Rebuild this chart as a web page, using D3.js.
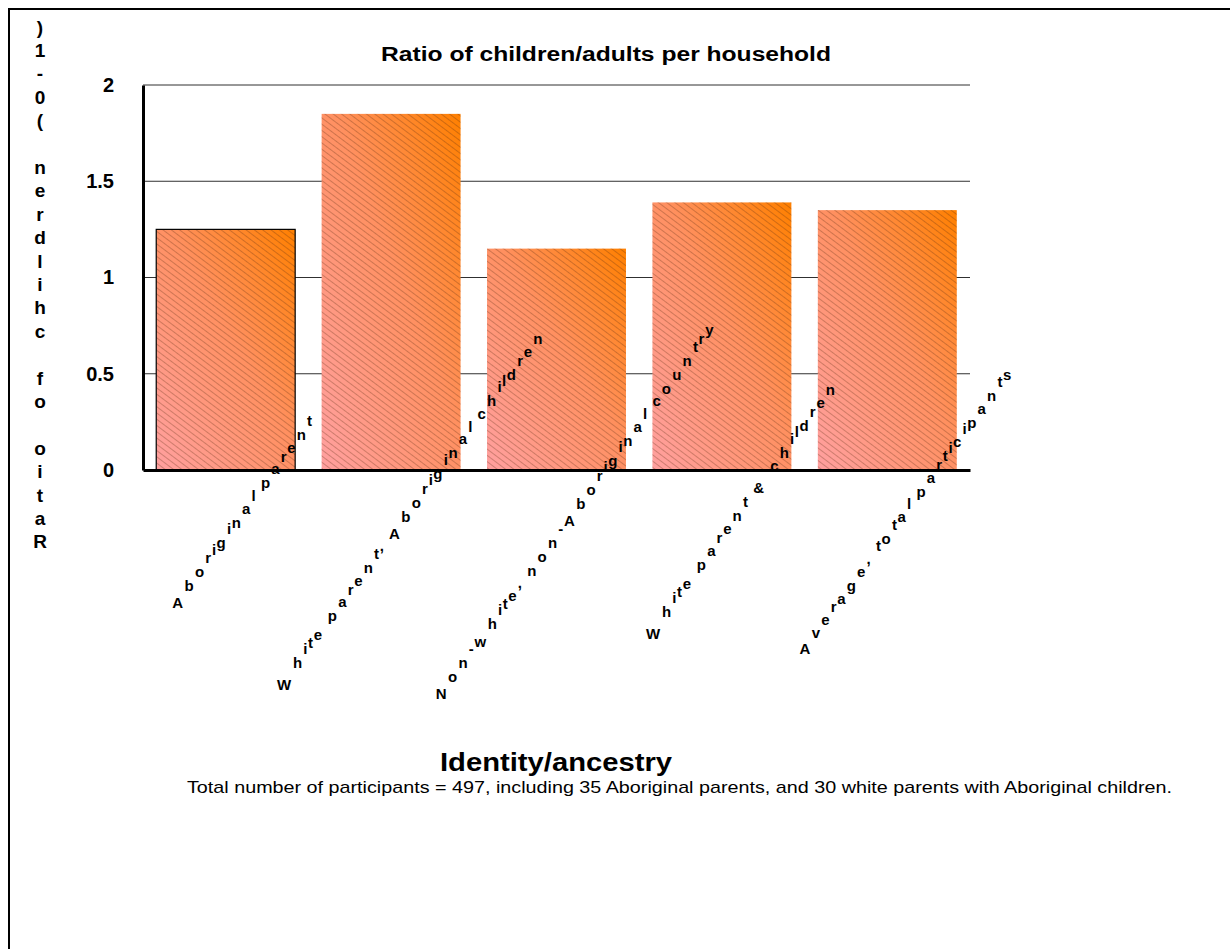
<!DOCTYPE html>
<html>
<head>
<meta charset="utf-8">
<script src="https://cdn.jsdelivr.net/npm/d3@7"></script>
<style>
  html, body { margin: 0; padding: 0; background: #fff; }
  svg { display: block; }
  text { font-family: "Liberation Sans", Arial, sans-serif; fill: #000; }
</style>
</head>
<body>
<svg id="chart" width="1230" height="949"></svg>
<script>
// ---- data ----
const categories = [
  "Aboriginal parent",
  "White parent, Aboriginal children",
  "Non-white, non-Aboriginal country",
  "White parent & children",
  "Average, total participants"
];
const ratios = [1.25, 1.85, 1.15, 1.39, 1.35];
const yTicks = [0, 0.5, 1, 1.5, 2];
const chartTitle = "Ratio of children/adults per household";
const yTitle = "Ratio of children (0-1)";
const xTitle = "Identity/ancestry";
const footnote = "Total number of participants = 497, including 35 Aboriginal parents, and 30 white parents with Aboriginal children.";

// ---- layout ----
const plot = { left: 143, right: 970, top: 85, bottom: 470 };
const svg = d3.select("#chart");

const x = d3.scaleBand()
  .domain(categories)
  .range([plot.left, plot.right])
  .paddingInner(0.16)
  .paddingOuter(0.08);

const y = d3.scaleLinear().domain([0, 2]).range([plot.bottom, plot.top]);

// outer frame
svg.append("rect")
  .attr("x", 9).attr("y", 9)
  .attr("width", 1260).attr("height", 980)
  .attr("fill", "none").attr("stroke", "#000").attr("stroke-width", 2);

// ---- fills ----
const defs = svg.append("defs");
const grad = defs.append("linearGradient")
  .attr("id", "barFill")
  .attr("x1", 0).attr("y1", 1).attr("x2", 1).attr("y2", 0);
grad.append("stop").attr("offset", 0).attr("stop-color", "#ffa0a0");
grad.append("stop").attr("offset", 0.55).attr("stop-color", "#ff9060");
grad.append("stop").attr("offset", 1).attr("stop-color", "#ff8000");

const hatch = defs.append("pattern")
  .attr("id", "hatch")
  .attr("patternUnits", "userSpaceOnUse")
  .attr("width", 10).attr("height", 5)
  .attr("patternTransform", "rotate(37)");
hatch.append("line")
  .attr("x1", 0).attr("y1", 0.5).attr("x2", 10).attr("y2", 0.5)
  .attr("stroke", "#5a2a12").attr("stroke-opacity", 0.5)
  .attr("stroke-width", 0.6);

// ---- gridlines ----
svg.append("g")
  .selectAll("line")
  .data(yTicks.filter(t => t > 0))
  .enter().append("line")
  .attr("x1", plot.left).attr("x2", plot.right)
  .attr("y1", d => y(d)).attr("y2", d => y(d))
  .attr("stroke", "#303030").attr("stroke-width", 1);

// ---- bars ----
const bars = svg.append("g");
bars.selectAll("rect.base")
  .data(ratios)
  .enter().append("rect")
  .attr("class", "base")
  .attr("x", (d, i) => x(categories[i]))
  .attr("y", d => y(d))
  .attr("width", x.bandwidth())
  .attr("height", d => y(0) - y(d))
  .attr("fill", "url(#barFill)");
bars.selectAll("rect.hatch")
  .data(ratios)
  .enter().append("rect")
  .attr("class", "hatch")
  .attr("x", (d, i) => x(categories[i]))
  .attr("y", d => y(d))
  .attr("width", x.bandwidth())
  .attr("height", d => y(0) - y(d))
  .attr("fill", "url(#hatch)")
  .attr("stroke", (d, i) => i === 0 ? "#000" : "none")
  .attr("stroke-width", 1.2);

// ---- axes ----
const yAxis = svg.append("g")
  .attr("transform", `translate(${plot.left},0)`)
  .call(d3.axisLeft(y).tickValues(yTicks).tickSize(0).tickSizeOuter(0).tickPadding(29)
    .tickFormat(d3.format("")));
yAxis.select(".domain").attr("stroke", "#000").attr("stroke-width", 3);
yAxis.selectAll("text")
  .attr("font-family", "'Liberation Sans', Arial, sans-serif")
  .attr("font-size", 20).attr("font-weight", "bold").attr("fill", "#000");

const xAxis = svg.append("g")
  .attr("transform", `translate(0,${plot.bottom})`)
  .call(d3.axisBottom(x).tickSize(0).tickSizeOuter(0).tickFormat(""));
xAxis.select(".domain").attr("stroke", "#000").attr("stroke-width", 3);

// ---- category labels: upright glyphs laid along a slanted baseline ----
const measure = document.createElement("canvas").getContext("2d");
measure.font = "bold 28.5px 'Liberation Sans'";
const ang = 53.5 * Math.PI / 180;
const ux = Math.cos(ang), uy = -Math.sin(ang);
const labels = svg.append("g");
categories.forEach(cat => {
  const chars = Array.from(cat);
  let s = 0;
  const glyphs = chars.map(c => { const p = s; s += measure.measureText(c).width; return { c, p }; });
  const span = glyphs[glyphs.length - 1].p;
  const cx = x(cat) + x.bandwidth() / 2 + 14, cy = 517;
  const x0 = cx - ux * span / 2, y0 = cy - uy * span / 2;
  labels.selectAll(null)
    .data(glyphs.filter(g => g.c !== " "))
    .enter().append("text")
    .attr("x", g => x0 + ux * g.p)
    .attr("y", g => y0 + uy * g.p)
    .attr("font-size", 15).attr("font-weight", "bold")
    .text(g => g.c);
});

// ---- y axis title: glyphs stacked downward, read from the bottom up ----
const yChars = Array.from(yTitle).reverse();
svg.append("g").selectAll("text")
  .data(yChars)
  .enter().append("text")
  .attr("x", 40)
  .attr("y", (c, i) => 27 + i * 23.4)
  .attr("dy", "0.35em")
  .attr("text-anchor", "middle")
  .attr("font-size", 19).attr("font-weight", "bold")
  .text(c => c === " " ? "" : c);

// ---- titles ----
svg.append("text")
  .attr("x", 606).attr("y", 61)
  .attr("text-anchor", "middle")
  .attr("font-size", 19.5).attr("font-weight", "bold")
  .attr("textLength", 450).attr("lengthAdjust", "spacingAndGlyphs")
  .text(chartTitle);

svg.append("text")
  .attr("x", 556).attr("y", 771)
  .attr("text-anchor", "middle")
  .attr("font-size", 25).attr("font-weight", "bold")
  .attr("textLength", 232).attr("lengthAdjust", "spacingAndGlyphs")
  .text(xTitle);

svg.append("text")
  .attr("x", 679.5).attr("y", 793)
  .attr("text-anchor", "middle")
  .attr("font-size", 17)
  .attr("textLength", 985).attr("lengthAdjust", "spacingAndGlyphs")
  .text(footnote);
</script>
</body>
</html>
